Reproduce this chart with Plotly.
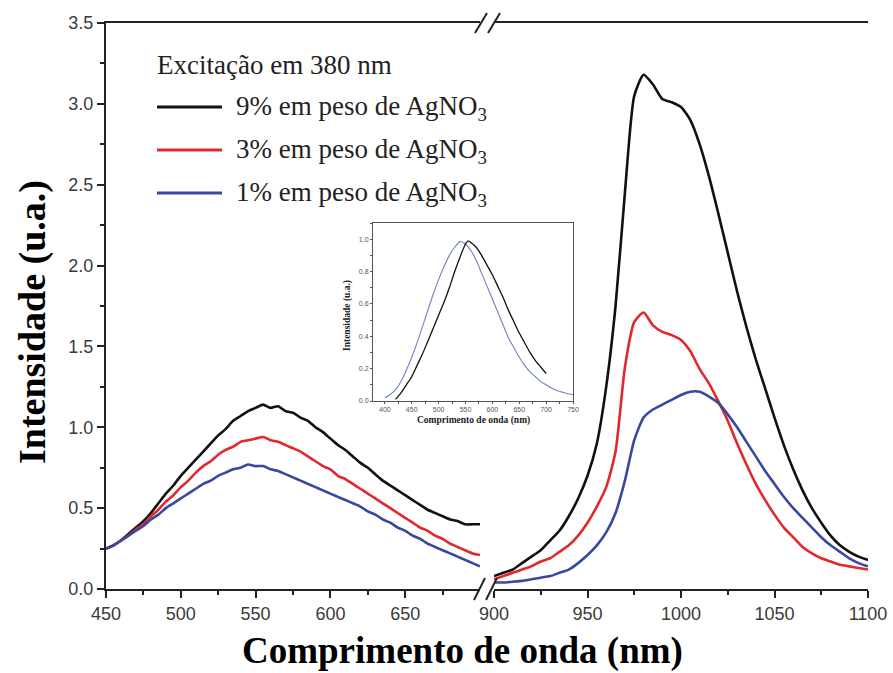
import plotly.graph_objects as go

W, H = 893, 673

# ---------------- data ----------------
wl_left = [450, 455, 460, 465, 470, 475, 480, 485, 490, 495, 500, 505, 510, 515, 520, 525,
           530, 535, 540, 545, 550, 555, 560, 565, 570, 575, 580, 585, 590, 595, 600, 605,
           610, 615, 620, 625, 630, 635, 640, 645, 650, 655, 660, 665, 670, 675, 680, 685,
           690, 695, 700]
black_left = [0.25, 0.27, 0.30, 0.34, 0.38, 0.42, 0.47, 0.53, 0.59, 0.64, 0.70, 0.75, 0.80, 0.85,
              0.90, 0.95, 0.99, 1.04, 1.07, 1.10, 1.12, 1.14, 1.12, 1.13, 1.10, 1.09, 1.06, 1.04,
              1.00, 0.97, 0.93, 0.89, 0.86, 0.82, 0.78, 0.75, 0.71, 0.67, 0.64, 0.61, 0.58, 0.55,
              0.52, 0.49, 0.47, 0.45, 0.43, 0.42, 0.40, 0.40, 0.40]
red_left = [0.25, 0.27, 0.30, 0.33, 0.37, 0.40, 0.45, 0.49, 0.54, 0.58, 0.63, 0.67, 0.72, 0.76,
            0.79, 0.83, 0.86, 0.88, 0.91, 0.92, 0.93, 0.94, 0.92, 0.91, 0.89, 0.87, 0.85, 0.82,
            0.79, 0.76, 0.74, 0.70, 0.68, 0.65, 0.62, 0.59, 0.56, 0.53, 0.50, 0.47, 0.44, 0.41,
            0.38, 0.36, 0.33, 0.31, 0.28, 0.26, 0.24, 0.22, 0.21]
blue_left = [0.25, 0.27, 0.30, 0.33, 0.36, 0.39, 0.43, 0.46, 0.50, 0.53, 0.56, 0.59, 0.62, 0.65,
             0.67, 0.70, 0.72, 0.74, 0.75, 0.77, 0.76, 0.76, 0.74, 0.73, 0.71, 0.69, 0.67, 0.65,
             0.63, 0.61, 0.59, 0.57, 0.55, 0.53, 0.51, 0.48, 0.46, 0.43, 0.41, 0.38, 0.36, 0.33,
             0.31, 0.28, 0.26, 0.24, 0.22, 0.20, 0.18, 0.16, 0.14]

wl_right = [900, 905, 910, 915, 920, 925, 930, 935, 940, 945, 950, 955, 960, 965, 970, 975,
            980, 985, 990, 995, 1000, 1005, 1010, 1015, 1020, 1025, 1030, 1035, 1040, 1045,
            1050, 1055, 1060, 1065, 1070, 1075, 1080, 1085, 1090, 1095, 1100]
black_right = [0.08, 0.10, 0.12, 0.16, 0.20, 0.24, 0.30, 0.36, 0.45, 0.56, 0.70, 0.90, 1.25,
               1.75, 2.45, 3.05, 3.18, 3.12, 3.03, 3.01, 2.98, 2.90, 2.75, 2.55, 2.32, 2.08,
               1.84, 1.62, 1.42, 1.24, 1.06, 0.89, 0.74, 0.61, 0.50, 0.41, 0.33, 0.27, 0.23,
               0.20, 0.18]
red_right = [0.06, 0.08, 0.10, 0.12, 0.14, 0.17, 0.19, 0.23, 0.27, 0.33, 0.41, 0.51, 0.63,
             0.85, 1.37, 1.65, 1.71, 1.63, 1.59, 1.57, 1.54, 1.47, 1.36, 1.27, 1.16, 1.04,
             0.90, 0.77, 0.65, 0.55, 0.46, 0.38, 0.32, 0.26, 0.22, 0.19, 0.17, 0.15, 0.14,
             0.13, 0.12]
blue_right = [0.04, 0.04, 0.045, 0.05, 0.06, 0.07, 0.08, 0.10, 0.12, 0.16, 0.21, 0.27, 0.35,
              0.47, 0.67, 0.92, 1.06, 1.11, 1.14, 1.17, 1.20, 1.22, 1.22, 1.19, 1.15, 1.08,
              1.00, 0.91, 0.82, 0.73, 0.65, 0.57, 0.50, 0.44, 0.38, 0.32, 0.27, 0.23, 0.19,
              0.16, 0.14]

# inset (normalised spectra)
inset_wl_blue = [400, 410, 420, 430, 440, 450, 460, 470, 480, 490, 500, 510, 520, 530, 540,
                 550, 560, 570, 580, 590, 600, 610, 620, 630, 640, 650, 660, 670, 680, 690,
                 700, 710, 720, 730, 740, 750]
inset_blue = [0.02, 0.04, 0.07, 0.12, 0.19, 0.27, 0.36, 0.46, 0.56, 0.66, 0.75, 0.83, 0.90,
              0.95, 0.985, 0.97, 0.93, 0.87, 0.79, 0.71, 0.63, 0.55, 0.47, 0.39, 0.33, 0.27,
              0.22, 0.18, 0.15, 0.12, 0.10, 0.08, 0.065, 0.055, 0.045, 0.04]
inset_wl_black = [420, 430, 440, 450, 460, 470, 480, 490, 500, 510, 520, 530, 540, 550, 555,
                  560, 570, 580, 590, 600, 610, 620, 630, 640, 650, 660, 670, 680, 690, 700]
inset_black = [0.01, 0.05, 0.10, 0.15, 0.22, 0.29, 0.37, 0.45, 0.53, 0.61, 0.70, 0.80, 0.89,
               0.97, 0.99, 0.98, 0.95, 0.90, 0.84, 0.78, 0.71, 0.64, 0.56, 0.49, 0.42, 0.36,
               0.30, 0.25, 0.21, 0.17]

legend_title = "Excitação em 380 nm"
series_names = ["9% em peso de AgNO<sub>3</sub>", "3% em peso de AgNO<sub>3</sub>",
                "1% em peso de AgNO<sub>3</sub>"]
series_colors = ["#111111", "#e0282e", "#3848a0"]

# ---------------- helpers ----------------
def px(x):
    return x / W

def py(y):
    return 1 - y / H

SANS = "Liberation Sans, Arial, sans-serif"
SERIF = "Liberation Serif, Times New Roman, serif"
AX = "#222222"
TXT = "#3a3a3a"

fig = go.Figure()

lefts = [black_left, red_left, blue_left]
rights = [black_right, red_right, blue_right]
for name, col, yl, yr in zip(series_names, series_colors, lefts, rights):
    fig.add_trace(go.Scatter(x=wl_left, y=yl, mode="lines",
                             line=dict(color=col, width=2.6, shape="spline", smoothing=0.6),
                             xaxis="x", yaxis="y", showlegend=False, name=name))
    fig.add_trace(go.Scatter(x=wl_right, y=yr, mode="lines",
                             line=dict(color=col, width=2.6, shape="spline", smoothing=0.6),
                             xaxis="x2", yaxis="y", showlegend=False, name=name))

fig.add_trace(go.Scatter(x=inset_wl_blue, y=inset_blue, mode="lines",
                         line=dict(color="#6f82c4", width=1.1, shape="spline", smoothing=0.6),
                         xaxis="x3", yaxis="y3", showlegend=False))
fig.add_trace(go.Scatter(x=inset_wl_black, y=inset_black, mode="lines",
                         line=dict(color="#111111", width=1.3, shape="spline", smoothing=0.6),
                         xaxis="x3", yaxis="y3", showlegend=False))

tickfont = dict(family=SANS, size=18, color=TXT)
common_x = dict(showline=True, linecolor=AX, linewidth=2, mirror=True, ticks="outside",
                ticklen=7, tickwidth=2, tickcolor=AX, showgrid=False, zeroline=False,
                tickfont=tickfont, automargin=False)

fig.update_layout(
    width=W, height=H, margin=dict(l=0, r=0, t=0, b=0, autoexpand=False),
    paper_bgcolor="white", plot_bgcolor="white",
    xaxis=dict(domain=[px(106), px(480)], range=[450, 700], anchor="y",
               tickvals=[450, 500, 550, 600, 650],
               minor=dict(tickvals=[475, 525, 575, 625, 675], ticks="outside", ticklen=4,
                          tickwidth=2, tickcolor=AX),
               **common_x),
    xaxis2=dict(domain=[px(494), px(868)], range=[900, 1100], anchor="y",
                tickvals=[900, 950, 1000, 1050, 1100],
                minor=dict(tickvals=[925, 975, 1025, 1075], ticks="outside", ticklen=4,
                           tickwidth=2, tickcolor=AX),
                **common_x),
    yaxis=dict(domain=[py(589), py(23)], range=[0, 3.5], anchor="x",
               tickvals=[0, 0.5, 1.0, 1.5, 2.0, 2.5, 3.0, 3.5], tickformat=".1f",
               minor=dict(tickvals=[0.25, 0.75, 1.25, 1.75, 2.25, 2.75, 3.25],
                          ticks="outside", ticklen=4, tickwidth=2, tickcolor=AX),
               showline=True, linecolor=AX, linewidth=2, ticks="outside", ticklen=7,
               tickwidth=2, tickcolor=AX, showgrid=False, zeroline=False, tickfont=tickfont,
               automargin=False),
    yaxis2=dict(domain=[py(589), py(23)], range=[0, 3.5], anchor="x2", side="right",
                overlaying="y", showline=True, linecolor=AX, linewidth=2, ticks="",
                showticklabels=False, showgrid=False, zeroline=False, automargin=False),
    xaxis3=dict(domain=[px(373), px(573)], range=[378, 750], anchor="y3",
                tickvals=[400, 450, 500, 550, 600, 650, 700, 750],
                minor=dict(dtick=25, tick0=400, ticks="outside", ticklen=2, tickcolor="#555"),
                showline=True, linecolor="#555", linewidth=1, mirror=True, ticks="outside",
                ticklen=2, tickcolor="#555", showgrid=False, zeroline=False, automargin=False,
                tickfont=dict(family=SANS, size=7, color="#555")),
    yaxis3=dict(domain=[py(401), py(223)], range=[0, 1.1], anchor="x3",
                tickvals=[0, 0.2, 0.4, 0.6, 0.8, 1.0], tickformat=".1f",
                minor=dict(dtick=0.1, tick0=0, ticks="outside", ticklen=2, tickcolor="#555"),
                showline=True, linecolor="#555", linewidth=1, mirror=True, ticks="outside",
                ticklen=2, tickcolor="#555", showgrid=False, zeroline=False, automargin=False,
                tickfont=dict(family=SANS, size=7, color="#555")),
    showlegend=False,
)

shapes = []
# axis break marks
for (x0, y0, x1, y1) in [(475, 33, 487, 13), (488, 33, 500, 13),
                         (474, 600, 485, 578), (486, 600, 497, 578)]:
    shapes.append(dict(type="line", xref="paper", yref="paper", x0=px(x0), y0=py(y0),
                       x1=px(x1), y1=py(y1), line=dict(color=AX, width=2)))
# legend keys
legend_rows = [107, 150, 193]
for yy, col in zip(legend_rows, series_colors):
    shapes.append(dict(type="line", xref="paper", yref="paper", x0=px(157), x1=px(222),
                       y0=py(yy), y1=py(yy), line=dict(color=col, width=3)))
fig.update_layout(shapes=shapes)

ann = []
ann.append(dict(text=legend_title, x=px(155), y=py(65), xref="paper", yref="paper",
                xanchor="left", yanchor="middle", showarrow=False,
                font=dict(family=SERIF, size=27, color="#222")))
for yy, name in zip(legend_rows, series_names):
    ann.append(dict(text=name, x=px(234), y=py(yy + 1), xref="paper", yref="paper",
                    xanchor="left", yanchor="middle", showarrow=False,
                    font=dict(family=SERIF, size=27, color="#222")))
ann.append(dict(text="<b>Comprimento de onda (nm)</b>", x=px(462), y=py(651), xref="paper",
                yref="paper", xanchor="center", yanchor="middle", showarrow=False,
                font=dict(family=SERIF, size=37, color="#000")))
ann.append(dict(text="<b>Intensidade (u.a.)</b>", x=px(32), y=py(322), xref="paper",
                yref="paper", xanchor="center", yanchor="middle", showarrow=False,
                textangle=-90, font=dict(family=SERIF, size=38, color="#000")))
# inset titles
ann.append(dict(text="<b>Comprimento de onda (nm)</b>", x=px(473), y=py(420), xref="paper",
                yref="paper", xanchor="center", yanchor="middle", showarrow=False,
                font=dict(family=SERIF, size=9.5, color="#222")))
ann.append(dict(text="<b>Intensidade (u.a.)</b>", x=px(347), y=py(316), xref="paper",
                yref="paper", xanchor="center", yanchor="middle", showarrow=False,
                textangle=-90, font=dict(family=SERIF, size=9.5, color="#222")))
fig.update_layout(annotations=ann)

fig.write_html("out.html")
